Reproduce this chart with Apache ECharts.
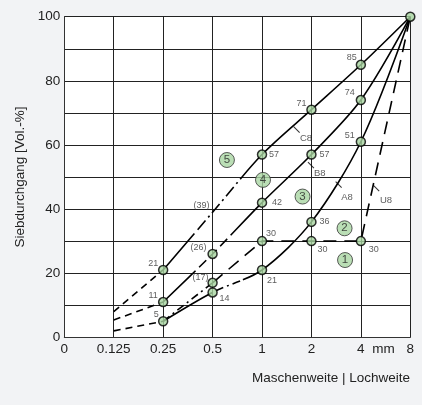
<!DOCTYPE html>
<html><head><meta charset="utf-8">
<script src="https://cdn.jsdelivr.net/npm/echarts@6/dist/echarts.min.js"></script>
<style>html,body{margin:0;padding:0;background:#f2f3f5}#c{width:422px;height:405px}</style>
</head><body><div id="c"></div>
<script>
// ---- data ----
const sieves = ['0', '0.125', '0.25', '0.5', '1', '2', '4', '8'];
const yTicks = [0, 20, 40, 60, 80, 100];
// passing values (Vol.-%) at each sieve index; null = no value
const A8 = [null, 2, 5, 14, 21, 36, 61, 100];
const B8 = [null, 5.4, 11, 26, 42, 57, 74, 100];
const C8 = [null, 8, 21, 39, 57, 71, 85, 100];
const U8 = [null, 2, 5, 17, 30, 30, 30, 100];
const A8Labels = [null, null, '5', '14', '21', '36', '51', null];
const B8Labels = [null, null, '11', '(26)', '42', '57', '74', null];
const C8Labels = [null, null, '21', '(39)', '57', '71', '85', null];
const U8Labels = [null, null, null, '(17)', '30', '30', '30', null];
const curveNames = ['C8', 'B8', 'A8', 'U8'];
const curveNameX = [4.89, 5.17, 5.72, 6.51];
const curveNameY = [61.9, 51.0, 43.8, 42.8];
const leaderX = [4.70, 4.99, 5.55, 6.31];
const leaderY = [64.8, 53.7, 47.6, 46.5];
const zoneLabels = ['1', '2', '3', '4', '5'];
const zoneX = [5.68, 5.67, 4.82, 4.02, 3.29];
const zoneY = [24.1, 34.0, 43.9, 49.1, 55.3];
const xTitle = 'Maschenweite | Lochweite';
const yTitle = 'Siebdurchgang [Vol.-%]';

// ---- styles ----
const LINE = '#000';
const FILL = '#a8d5a0';
const FONT = '"Liberation Sans", Arial, sans-serif';
const labelOffsets = {
  A8: {2: [-7, -7], 3: [12, 6], 4: [10, 11], 5: [13, 0], 6: [-11, -6]},
  B8: {2: [-10, -7], 3: [-14, -6], 4: [15, 0], 5: [13, 0], 6: [-11, -8]},
  C8: {2: [-10, -6], 3: [-11, -7], 4: [12, 0], 5: [-10, -6], 6: [-9, -7]},
  U8: {3: [-12, -5], 4: [9, -8], 5: [11, 8], 6: [13, 8]}
};
const noMarker = {C8: [3], U8: [2, 7]};

function seg(vals, from, to) {
  const out = [];
  for (let i = from; i <= to; i++) out.push([i, vals[i]]);
  return out;
}
function lineSeries(data, type, smooth) {
  return {type: 'line', data, symbol: 'none', smooth: smooth || false, clip: false, z: 2,
    lineStyle: {color: LINE, width: 1.6, type}, silent: true};
}

const curves = {A8, B8, C8, U8};
const labels = {A8: A8Labels, B8: B8Labels, C8: C8Labels, U8: U8Labels};

const series = [];
// dashed extensions 0.125 -> 0.25
series.push(lineSeries(seg(A8, 1, 2), [7, 5]));
series.push(lineSeries(seg(B8, 1, 2), [7, 5]));
series.push(lineSeries(seg(C8, 1, 2), [7, 5]));
// main curves
series.push(lineSeries(seg(C8, 2, 7), [48, 5, 12, 4, 2, 4, 12, 4, 2, 4, 12, 4, 2, 4, 3000], 0.3));
series.push(lineSeries(seg(B8, 2, 7), [45, 5, 10, 5, 10, 5, 10, 5, 3000], 0.3));
series.push(lineSeries(seg(A8, 2, 7), [57, 4, 8, 4, 2, 4, 8, 3, 3000], 0.3));
series.push(lineSeries(seg(U8, 2, 3), [8, 4, 2, 4]));
series.push(lineSeries(seg(U8, 3, 7), [13, 8]));

// markers + value labels
const markerData = [];
const seen = {};
['C8', 'B8', 'A8', 'U8'].forEach(name => {
  const vals = curves[name], lab = labels[name];
  for (let i = 2; i < vals.length; i++) {
    const txt = lab[i];
    const skip = (noMarker[name] || []).includes(i);
    const key = i + ':' + vals[i];
    const showSym = !skip && !seen[key];
    if (!skip) seen[key] = true;
    if (!showSym && !txt) continue;
    const off = (labelOffsets[name] || {})[i] || [0, 0];
    markerData.push({
      value: [i, vals[i]],
      symbolSize: showSym ? 9 : 0,
      label: txt ? {show: true, position: 'inside', offset: off, formatter: txt,
        fontSize: 9, color: '#333', fontFamily: FONT} : {show: false}
    });
  }
});
series.push({type: 'scatter', data: markerData, symbol: 'circle', clip: false, z: 5, silent: true,
  itemStyle: {color: FILL, borderColor: LINE, borderWidth: 1.5}});

// curve names
series.push({type: 'scatter', z: 4, silent: true, symbolSize: 0,
  data: curveNames.map((n, k) => ({value: [curveNameX[k], curveNameY[k]],
    label: {show: true, position: 'inside', formatter: n, fontSize: 9.5, color: '#333', fontFamily: FONT}}))});
// small leader ticks for the curve names
series.push({type: 'scatter', z: 4, silent: true, symbol: 'path://M0,0L10,10', symbolSize: 6,
  itemStyle: {color: 'none', borderColor: LINE, borderWidth: 1.1},
  data: leaderX.map((x, k) => [x, leaderY[k]])});

// zone circles
series.push({type: 'scatter', z: 4, silent: true, symbol: 'circle', symbolSize: 15,
  itemStyle: {color: '#a9d6a2', borderColor: '#333', borderWidth: 1},
  data: zoneLabels.map((n, k) => ({value: [zoneX[k], zoneY[k]],
    label: {show: true, position: 'inside', formatter: n, fontSize: 11.5, color: '#222', fontFamily: FONT}}))});

const chart = echarts.init(document.getElementById('c'), null, {renderer: 'canvas'});
chart.setOption({
  backgroundColor: '#f2f3f5',
  animation: false,
  textStyle: {fontFamily: FONT},
  grid: {left: 64.3, right: 11.7, top: 16.7, bottom: 67.7, show: true, backgroundColor: '#fff', borderWidth: 0},
  xAxis: {
    type: 'value', min: 0, max: sieves.length - 1, interval: 1,
    axisLine: {lineStyle: {color: '#333', width: 1}},
    axisTick: {show: false},
    splitLine: {show: true, lineStyle: {color: '#222', width: 1}},
    axisLabel: {
      margin: 5, fontSize: 13.5, color: '#222', fontFamily: FONT,
      formatter: v => v === sieves.length - 2 ? '{p|}' + sieves[v] + '{u|mm}' : sieves[v],
      rich: {p: {width: 30}, u: {width: 30, align: 'right', fontSize: 13.5, color: '#222', fontFamily: FONT}}
    }
  },
  yAxis: {
    type: 'value', min: 0, max: 100, interval: 10,
    name: yTitle, nameLocation: 'middle', nameGap: 31,
    nameTextStyle: {fontSize: 13.5, color: '#222', fontFamily: FONT},
    axisLine: {show: true, lineStyle: {color: '#333', width: 1}},
    axisTick: {show: false},
    splitLine: {show: true, lineStyle: {color: '#222', width: 1}},
    axisLabel: {margin: 4, fontSize: 13.5, color: '#222', fontFamily: FONT,
      formatter: v => yTicks.includes(v) ? String(v) : ''}
  },
  graphic: [{type: 'text', right: 12, top: 371,
    style: {text: xTitle, fontSize: 13.5, fill: '#222', fontFamily: FONT}}],
  series
});
</script>
</body></html>
